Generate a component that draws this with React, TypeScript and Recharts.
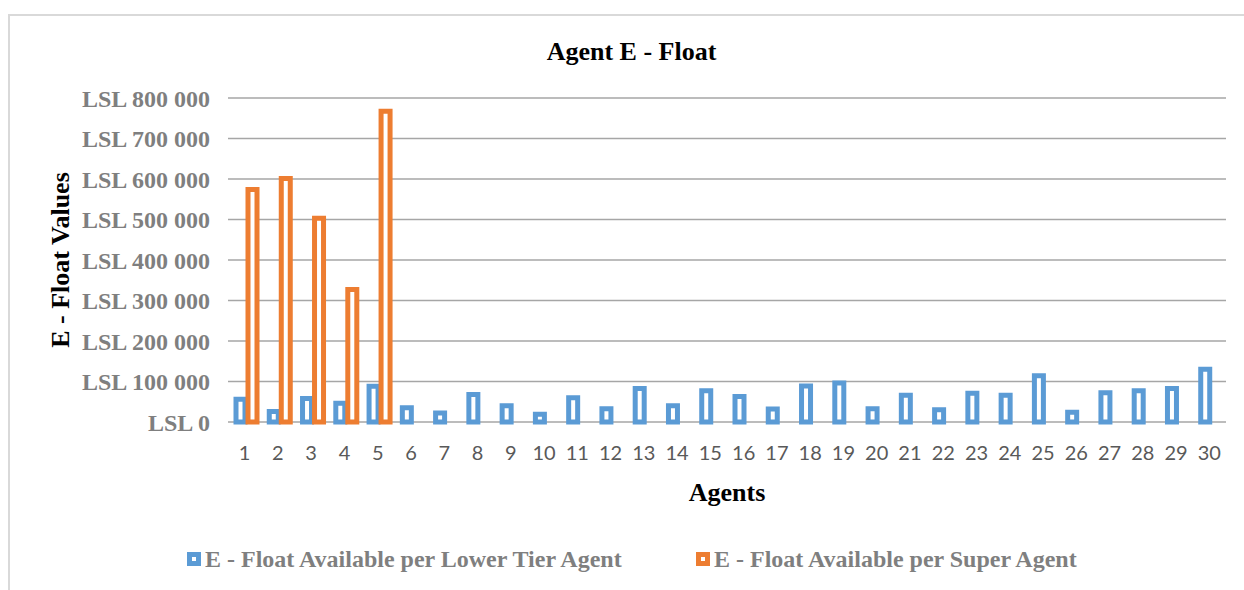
import React from 'react';
import { BarChart, Bar, XAxis, YAxis, CartesianGrid, Rectangle, Label } from 'recharts';

const agents = ['1','2','3','4','5','6','7','8','9','10','11','12','13','14','15','16','17','18','19','20','21','22','23','24','25','26','27','28','29','30'];
const lowerTier = [56000, 26000, 58000, 46000, 88000, 35000, 22000, 68000, 40000, 19000, 60000, 33000, 83000, 40000, 77000, 63000, 32000, 89000, 96000, 33000, 66000, 30000, 71000, 66000, 114000, 24000, 72000, 77000, 83000, 130000];
const superAgent = [574000, 601000, 503000, 327000, 767000];
const yTicks = [0, 100000, 200000, 300000, 400000, 500000, 600000, 700000, 800000];
const seriesNames = ['E - Float Available per Lower Tier Agent', 'E - Float Available per Super Agent'];
const title = 'Agent E - Float';
const xTitle = 'Agents';
const yTitle = 'E - Float Values';

const BLUE = '#5b9bd5';
const ORANGE = '#ed7d31';
const SERIF = '"Liberation Serif", "Times New Roman", serif';

const data = agents.map((a, i) => ({
  agent: a,
  lower: lowerTier[i],
  super: i < superAgent.length ? superAgent[i] : null,
}));

const fmt = (v: number) => 'LSL ' + String(v).replace(/\B(?=(\d{3})+(?!\d))/g, ' ');

const ShiftedBar = (props: any) => <Rectangle {...props} x={props.x + 2} />;

const legendItem = (color: string, text: string, left: number) => (
  <div style={{ position: 'absolute', left, top: 528, height: 30, display: 'flex', alignItems: 'center', whiteSpace: 'nowrap' }}>
    <div style={{ width: 14, height: 14, boxSizing: 'border-box', border: `5px solid ${color}`, background: '#fff', marginRight: 4 }} />
    <span style={{ fontFamily: SERIF, fontWeight: 'bold', fontSize: 24, color: '#7f7f7f', lineHeight: '30px' }}>{text}</span>
  </div>
);

export default function App() {
  return (
    <div style={{ position: 'absolute', left: 8, top: 14, width: 1236, height: 576, boxSizing: 'border-box', borderTop: '2px solid #d9d9d9', borderLeft: '2px solid #d9d9d9', background: '#fff' }}>
      <div style={{ position: 'relative', width: 1234, height: 574 }}>
        <BarChart width={1234} height={574} data={data} margin={{ top: 82, right: 18, bottom: 0, left: 0 }} barSize={9} barGap={3} barCategoryGap={0}>
          <CartesianGrid vertical={false} stroke="#a6a6a6" strokeWidth={1.5} />
          <XAxis
            dataKey="agent"
            interval={0}
            axisLine={false}
            tickLine={false}
            tickSize={0}
            tickMargin={24}
            height={168}
            tick={{ fill: '#595959', fontSize: 20, fontFamily: 'Lato, "Open Sans", sans-serif' }}
          >
            <Label
              content={(p: any) => {
                const vb = p.viewBox || {};
                return (
                  <text x={vb.x + vb.width / 2} y={vb.y + 70} dy="0.33em" textAnchor="middle" fontFamily={SERIF} fontWeight="bold" fontSize={26} fill="#000">
                    {xTitle}
                  </text>
                );
              }}
            />
          </XAxis>
          <YAxis
            type="number"
            domain={[0, 800000]}
            ticks={yTicks}
            tickFormatter={fmt}
            axisLine={false}
            tickLine={false}
            tickSize={0}
            tickMargin={18}
            width={218}
            tick={{ fill: '#7f7f7f', fontSize: 24, fontWeight: 'bold', fontFamily: SERIF }}
          >
            <Label
              content={(p: any) => {
                const vb = p.viewBox || {};
                const cx = 50;
                const cy = vb.y + vb.height / 2;
                return (
                  <text x={cx} y={cy} dy="0.33em" textAnchor="middle" transform={`rotate(-90 ${cx} ${cy})`} fontFamily={SERIF} fontWeight="bold" fontSize={26} fill="#000">
                    {yTitle}
                  </text>
                );
              }}
            />
          </YAxis>
          <Bar dataKey="lower" name={seriesNames[0]} fill="#fff" stroke={BLUE} strokeWidth={5} isAnimationActive={false} shape={ShiftedBar} />
          <Bar dataKey="super" name={seriesNames[1]} fill="#fff" stroke={ORANGE} strokeWidth={5} isAnimationActive={false} shape={ShiftedBar} />
        </BarChart>
        <div style={{ position: 'absolute', left: 0, top: 21, width: 1243, textAlign: 'center', fontFamily: SERIF, fontWeight: 'bold', fontSize: 26, lineHeight: '30px', color: '#000' }}>
          {title}
        </div>
        {legendItem(BLUE, seriesNames[0], 177)}
        {legendItem(ORANGE, seriesNames[1], 686)}
      </div>
    </div>
  );
}
